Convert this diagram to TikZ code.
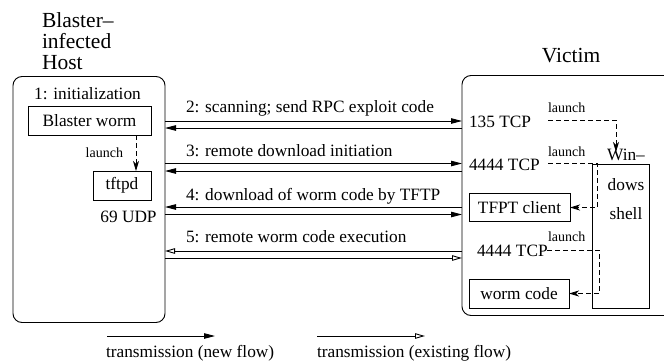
\documentclass[tikz,border=0pt]{standalone}
\usepackage{fontspec}
\setmainfont{Liberation Serif}
\usetikzlibrary{arrows.meta}
\begin{document}
\begin{tikzpicture}[x=1pt,y=-1pt,
  every node/.style={inner sep=0pt, outer sep=0pt},
  bodyfont/.style={font=\fontsize{17.3}{20}\selectfont},
  bigfont/.style={font=\fontsize{21.5}{21}\selectfont},
  smallfont/.style={font=\fontsize{14}{16}\selectfont},
  sysbox/.style={draw, line width=0.9pt, rounded corners=9pt},
  procbox/.style={draw, line width=0.9pt, bodyfont},
  newflow/.style={line width=0.9pt, -{Triangle[length=11pt,width=5.5pt]}},
  oldflow/.style={line width=0.9pt, -{Triangle[open,length=10pt,width=5.5pt]}},
  launcharrow/.style={line width=0.9pt, dash pattern=on 5pt off 3pt, -{Stealth[length=10pt,width=6pt,inset=3pt]}},
]
\useasboundingbox (0,0) rectangle (664,362);
\clip (0,0) rectangle (664,362);

% systems
\node[sysbox, minimum width=152pt, minimum height=246pt] (host) at (89,199.5) {};
\node[sysbox, minimum width=240pt, minimum height=240pt] (victim) at (582,195.5) {};
\node[bigfont, align=left, anchor=north west] (hosttitle) at (42,12.5) {Blaster–\\infected\\Host};
\node[bigfont, anchor=base] (victimtitle) at (571,62) {Victim};

% host side
\node[bodyfont, anchor=base] (init) at (87.5,99.3) {1: initialization};
\node[procbox, minimum width=123pt, minimum height=29pt] (worm) at (89.5,120.5) {Blaster worm};
\node[procbox, minimum width=58pt, minimum height=29pt] (tftpd) at (122,185.5) {tftpd};
\draw[launcharrow] ([xshift=46.5pt]worm.south) -- ([xshift=14pt]tftpd.north);
\node[smallfont, anchor=base east] (l0) at (123,157) {launch};
\node[bodyfont, anchor=base] (udp) at (128.5,222) {69 UDP};

% rows
\coordinate (r2a) at (0,121);
\coordinate (r2b) at (0,128);
\coordinate (r3a) at (0,163.5);
\coordinate (r3b) at (0,171);
\coordinate (r4a) at (0,207);
\coordinate (r4b) at (0,214.5);
\coordinate (r5a) at (0,251);
\coordinate (r5b) at (0,258);

\draw[newflow] (host.east |- r2a) -- (victim.west |- r2a);
\draw[newflow] (victim.west |- r2b) -- (host.east |- r2b);
\draw[newflow] (host.east |- r3a) -- (victim.west |- r3a);
\draw[newflow] (victim.west |- r3b) -- (host.east |- r3b);
\draw[newflow] (victim.west |- r4a) -- (host.east |- r4a);
\draw[newflow] (host.east |- r4b) -- (victim.west |- r4b);
\draw[oldflow] (victim.west |- r5a) -- (host.east |- r5a);
\draw[oldflow] (host.east |- r5b) -- (victim.west |- r5b);

\node[bodyfont, anchor=base west] (m2) at (186,112.3) {2: scanning; send RPC exploit code};
\node[bodyfont, anchor=base west] (m3) at (186,156.7) {3: remote download initiation};
\node[bodyfont, anchor=base west] (m4) at (186,200) {4: download of worm code by TFTP};
\node[bodyfont, anchor=base west] (m5) at (186,242.7) {5: remote worm code execution};

% victim side
\node[bodyfont, anchor=base west] (p135) at (469,127.3) {135 TCP};
\node[bodyfont, anchor=base west] (p4444a) at (469,170.7) {4444 TCP};
\node[bodyfont, anchor=base west] (p4444b) at (477,256.7) {4444 TCP};
\node[smallfont, anchor=base west] (l1) at (548,112.7) {launch};
\node[smallfont, anchor=base west] (l2) at (548,156.7) {launch};
\node[smallfont, anchor=base west] (l3) at (548,241.7) {launch};

\node[procbox, minimum width=57pt, minimum height=144pt] (shell) at (620.5,236) {};
\node[align=center, font=\fontsize{17.3}{29.5}\selectfont, anchor=north] (shelltext) at (626,149.4) {Win–\\dows\\shell};
\node[procbox, minimum width=101pt, minimum height=28pt] (tftp) at (519.5,207.5) {TFPT client};
\node[procbox, minimum width=100pt, minimum height=29pt] (wcode) at (519,293.5) {worm code};

\coordinate (d1s) at (548,120);
\coordinate (d1a) at (616,120);
\coordinate (d1e) at (616,152);
\draw[launcharrow] (d1s) -- (d1a) -- (d1e);
\coordinate (d2s) at (548,163);
\coordinate (d2a) at (597,163);
\coordinate (d2b) at (597,207.5);
\draw[launcharrow] (d2s) -- (d2a) -- (d2b) -- (tftp.east);
\coordinate (d3s) at (547,250);
\coordinate (d3a) at (599,250);
\coordinate (d3b) at (599,293.5);
\draw[launcharrow] (d3s) -- (d3a) -- (d3b) -- (wcode.east);

% legend
\coordinate (g1a) at (107,336);
\coordinate (g1b) at (215,336);
\coordinate (g2a) at (317,336);
\coordinate (g2b) at (425,336);
\draw[newflow] (g1a) -- (g1b);
\draw[oldflow] (g2a) -- (g2b);
\node[bodyfont, anchor=base west] (t1) at (106,357) {transmission (new flow)};
\node[bodyfont, anchor=base west] (t2) at (317,357) {transmission (existing flow)};
\end{tikzpicture}
\end{document}
